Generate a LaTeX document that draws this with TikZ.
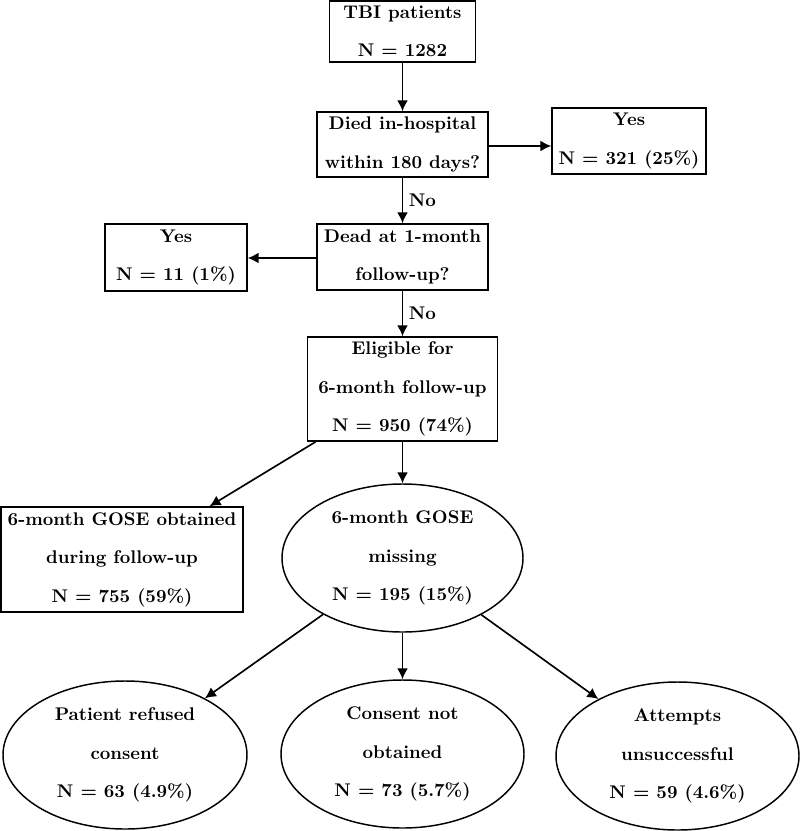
\documentclass[tikz,border=0pt]{standalone}
\usetikzlibrary{arrows.meta,shapes.geometric}
\def\PX{0.545pt}
\begin{document}
\begin{tikzpicture}[x=\PX,y=-\PX,
  every node/.style={font=\bfseries,align=center,inner sep=0pt},
  flowbox/.style={draw,line width=0.8pt,rectangle},
  flowell/.style={draw,line width=0.8pt,ellipse,minimum width=243*\PX,minimum height=148*\PX},
  conn/.style={line width=0.9pt,-{Latex[length=6pt,width=6pt]}}]
\useasboundingbox (0,0) rectangle (800,831);
\node[flowbox,minimum width=146*\PX,minimum height=61*\PX] (tbi) at (402.5,31.5) {TBI patients\\[9pt]N = 1282};
\node[flowbox,minimum width=171*\PX,minimum height=65*\PX] (died) at (402.5,144.5) {Died in-hospital\\[9pt]within 180 days?};
\node[flowbox,minimum width=154*\PX,minimum height=66*\PX] (yesa) at (629,141) {Yes\\[9pt]N = 321 (25\%)};
\node[flowbox,minimum width=171*\PX,minimum height=66*\PX] (dead) at (402.5,257) {Dead at 1-month\\[9pt]follow-up?};
\node[flowbox,minimum width=142*\PX,minimum height=67*\PX] (yesb) at (176,257.5) {Yes\\[9pt]N = 11 (1\%)};
\node[flowbox,minimum width=190*\PX,minimum height=104*\PX] (elig) at (402.5,389) {Eligible for\\[9pt]6-month follow-up\\[9pt]N = 950 (74\%)};
\node[flowbox,minimum width=242*\PX,minimum height=105*\PX] (obt) at (122,559.5) {6-month GOSE obtained\\[9pt]during follow-up\\[9pt]N = 755 (59\%)};
\node[flowell,minimum width=241*\PX] (miss) at (402.5,558) {6-month GOSE\\[9pt]missing\\[9pt]N = 195 (15\%)};
\node[flowell,minimum width=244*\PX] (ref) at (125,755) {Patient refused\\[9pt]consent\\[9pt]N = 63 (4.9\%)};
\node[flowell] (cons) at (402.5,754) {Consent not\\[9pt]obtained\\[9pt]N = 73 (5.7\%)};
\node[flowell] (att) at (677.5,756) {Attempts\\[9pt]unsuccessful\\[9pt]N = 59 (4.6\%)};
\draw[conn] (tbi) -- (died);
\draw[conn] ([yshift=-1.5*\PX]died.east) -- ([yshift=-1.5*\PX]died.east -| yesa.west);
\draw[conn] (died) -- node[right=3pt] {No} (dead);
\draw[conn] ([yshift=-1*\PX]dead.west) -- ([yshift=-1*\PX]dead.west -| yesb.east);
\draw[conn] (dead) -- node[right=3pt] {No} (elig);
\draw[conn] (elig) -- (obt);
\draw[conn] (elig) -- (miss);
\draw[conn] (miss) -- (ref);
\draw[conn] (miss) -- (cons);
\draw[conn] (miss) -- (att);
\end{tikzpicture}
\end{document}
